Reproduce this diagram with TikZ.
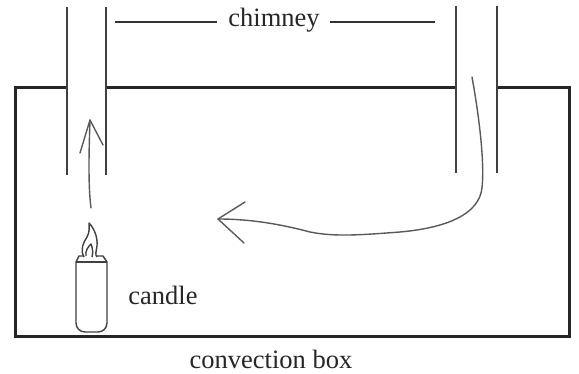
\documentclass[tikz,border=0pt]{standalone}
\usepackage{fontspec}
\setmainfont{Liberation Serif}
\begin{document}
\begin{tikzpicture}[x=1pt,y=-1pt,
  wall/.style={draw=black!85,line width=3pt},
  pipe/.style={draw=black!75,line width=2.2pt},
  flow/.style={draw=black!65,line width=1.4pt,line cap=round,line join=round},
  wax/.style={draw=black!75,line width=1.4pt,line join=round},
  label/.style={inner sep=0pt,text=black!85,font=\fontsize{26.5}{30}\selectfont},
  leader/.style={draw=black!80,line width=1.4pt}]
\useasboundingbox (0,0) rectangle (579,374);

% convection box with its two openings in the lid
\coordinate (boxTL) at (15,88);
\coordinate (boxTR) at (569,88);
\coordinate (boxBL) at (15,337);
\coordinate (boxBR) at (569,337);
\draw[wall,line join=miter] (67,88) -- (boxTL) -- (boxBL) -- (boxBR) -- (boxTR) -- (497,88);
\draw[wall] (106,88) -- (456,88);

% chimney pipes
\coordinate (cLa) at (67,7);   \coordinate (cLb) at (67,175);
\coordinate (cLc) at (106,7);  \coordinate (cLd) at (106,175);
\coordinate (cRa) at (456,6);  \coordinate (cRb) at (456,173);
\coordinate (cRc) at (497,6);  \coordinate (cRd) at (497,173);
\draw[pipe] (cLa) -- (cLb);
\draw[pipe] (cLc) -- (cLd);
\draw[pipe] (cRa) -- (cRb);
\draw[pipe] (cRc) -- (cRd);

% labels
\node[label] (chim) at (274,20) {chimney};
\node[label] (cand) at (163,295) {candle};
\node[label] (cbox) at (271,359) {convection box};
\coordinate (ldL) at (115,22);
\coordinate (ldR) at (435,22);
\draw[leader] (ldL) -- ([xshift=-11pt]chim.west |- ldL);
\draw[leader] ([xshift=10pt]chim.east |- ldR) -- (ldR);

% candle
\draw[wax,rounded corners=9pt] (76,262) -- (76,332) -- (107,332) -- (107,262);
\draw[wax] (76,262) -- (107,262);
\draw[wax] (76,262) -- (79,256) -- (84,256) (97,256) -- (103,256) -- (107,262);
\draw[wax] (84,257) .. controls (80,250) and (83,243) .. (87,237)
  .. controls (90,232) and (89,227) .. (89,223)
  .. controls (93,227) and (98,236) .. (97,246)
  .. controls (96,252) and (95,255) .. (97,257);
\draw[wax] (86,256) .. controls (85,251) and (88,247) .. (91,244)
  .. controls (93,249) and (93,253) .. (92,257);

% rising warm air
\coordinate (upS) at (91,208);
\coordinate (upT) at (90,120);
\draw[flow] (upS) .. controls (88,185) and (89,150) .. (upT);
\draw[flow] (80,153) -- (upT) -- (103,145);

% cool air drawn down the second chimney
\coordinate (dnS) at (472,77);
\coordinate (dnT) at (218,219);
\draw[flow] (dnS) .. controls (478,110) and (485,160) .. (482,188)
  .. controls (479,215) and (445,228) .. (400,232)
  .. controls (360,235) and (335,237) .. (310,232)
  .. controls (280,224) and (250,219) .. (dnT);
\draw[flow] (245,202) -- (dnT) -- (244,243);
\end{tikzpicture}
\end{document}
